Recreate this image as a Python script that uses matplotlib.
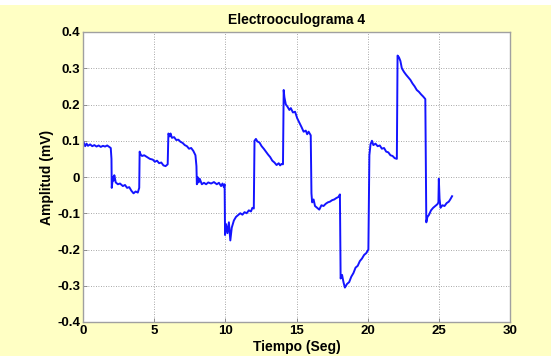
import matplotlib
matplotlib.use("Agg")
import matplotlib.pyplot as plt
from matplotlib.patches import Rectangle

title = "Electrooculograma 4"
xlabel = "Tiempo (Seg)"
ylabel = "Amplitud (mV)"
xticks = [0, 5, 10, 15, 20, 25, 30]
yticks = [-0.4, -0.3, -0.2, -0.1, 0, 0.1, 0.2, 0.3, 0.4]
ytick_labels = ["-0.4", "-0.3", "-0.2", "-0.1", "0", "0.1", "0.2", "0.3", "0.4"]

# signal breakpoints (time in s, amplitude in mV)
t = [0.0, 0.05, 0.15, 0.25, 0.35, 0.5, 0.65, 0.8, 0.95, 1.1, 1.25, 1.4, 1.55, 1.7, 1.85, 1.95, 2.0,
     2.02, 2.1, 2.15, 2.2, 2.3, 2.45, 2.6, 2.8, 2.95, 3.1, 3.25, 3.4, 3.55, 3.7, 3.85, 3.95,
     3.98, 4.05, 4.15, 4.3, 4.5, 4.7, 4.9, 5.05, 5.2, 5.35, 5.5, 5.65, 5.8, 5.95,
     6.0, 6.1, 6.15, 6.25, 6.4, 6.55, 6.7, 6.85, 7.0, 7.15, 7.3, 7.45, 7.6, 7.75, 7.9, 7.97,
     8.0, 8.05, 8.12, 8.2, 8.35, 8.5, 8.65, 8.8, 9.0, 9.2, 9.4, 9.55, 9.7, 9.8, 9.9, 9.95,
     9.98, 10.05, 10.15, 10.25, 10.35, 10.45, 10.6, 10.75, 10.9, 11.05, 11.2, 11.35, 11.5,
     11.65, 11.8, 11.9, 12.0,
     12.05, 12.15, 12.25, 12.4, 12.55, 12.7, 12.85, 13.0, 13.15, 13.3, 13.45, 13.6, 13.75,
     13.85, 13.95, 14.05,
     14.1, 14.15, 14.25, 14.35, 14.5, 14.6, 14.75, 14.9, 15.05, 15.2, 15.35, 15.5, 15.65,
     15.75, 15.85, 16.0,
     16.05, 16.1, 16.2, 16.3, 16.45, 16.6, 16.75, 16.9, 17.05, 17.2, 17.35, 17.5, 17.65,
     17.8, 17.95, 18.05,
     18.1, 18.2, 18.3, 18.4, 18.55, 18.7, 18.85, 19.0, 19.15, 19.3, 19.45, 19.6, 19.75,
     19.9, 20.05,
     20.12, 20.2, 20.3, 20.4, 20.55, 20.7, 20.85, 21.0, 21.15, 21.3, 21.45, 21.6, 21.75,
     21.9, 22.05,
     22.1, 22.2, 22.3, 22.4, 22.55, 22.7, 22.85, 23.0, 23.15, 23.3, 23.45, 23.6, 23.75,
     23.9, 24.05,
     24.12, 24.2, 24.3, 24.45, 24.6, 24.75, 24.9, 24.97, 25.0, 25.05, 25.12, 25.25, 25.4,
     25.55, 25.7, 25.8, 25.93]
v = [0.1, 0.095, 0.085, 0.092, 0.086, 0.09, 0.085, 0.088, 0.084, 0.087, 0.083, 0.086, 0.084,
     0.087, 0.083, 0.08, 0.05,
     -0.03, 0.0, -0.01, 0.005, -0.015, -0.02, -0.018, -0.025, -0.022, -0.03, -0.028, -0.038,
     -0.045, -0.04, -0.043, -0.03,
     0.07, 0.062, 0.058, 0.06, 0.055, 0.05, 0.048, 0.042, 0.045, 0.038, 0.04, 0.032, 0.03, 0.035,
     0.12, 0.112, 0.12, 0.108, 0.11, 0.102, 0.103, 0.097, 0.094, 0.088, 0.085, 0.078, 0.08,
     0.072, 0.06, 0.03,
     -0.02, 0.0, -0.015, -0.005, -0.02, -0.016, -0.02, -0.015, -0.018, -0.014, -0.02, -0.016,
     -0.025, -0.018, -0.028, -0.02,
     -0.16, -0.13, -0.155, -0.125, -0.175, -0.14, -0.12, -0.11, -0.105, -0.1, -0.104, -0.097,
     -0.1, -0.092, -0.095, -0.085, -0.087,
     0.1, 0.105, 0.098, 0.095, 0.085, 0.078, 0.07, 0.062, 0.055, 0.045, 0.04, 0.033, 0.038,
     0.032, 0.036, 0.035,
     0.24, 0.22, 0.2, 0.195, 0.185, 0.19, 0.178, 0.18, 0.162, 0.15, 0.138, 0.125, 0.128,
     0.118, 0.125, 0.115,
     -0.045, -0.07, -0.062, -0.08, -0.085, -0.09, -0.078, -0.08, -0.074, -0.07, -0.068,
     -0.064, -0.062, -0.058, -0.055, -0.048,
     -0.28, -0.27, -0.29, -0.305, -0.295, -0.29, -0.275, -0.265, -0.25, -0.245, -0.232,
     -0.225, -0.215, -0.21, -0.2,
     0.06, 0.09, 0.1, 0.088, 0.092, 0.085, 0.087, 0.078, 0.08, 0.07, 0.068, 0.06, 0.058,
     0.052, 0.05,
     0.335, 0.33, 0.32, 0.3, 0.29, 0.282, 0.275, 0.268, 0.258, 0.25, 0.24, 0.235, 0.228,
     0.222, 0.215,
     -0.125, -0.11, -0.105, -0.092, -0.085, -0.08, -0.075, -0.07, -0.005, -0.06, -0.085,
     -0.078, -0.08, -0.072, -0.068, -0.062, -0.053]

plt.rcParams['font.family'] = ['Liberation Sans', 'DejaVu Sans']

bg = '#ffffc4'
fig = plt.figure(figsize=(5.51, 3.56), dpi=100, facecolor=bg)
fig.patches.append(Rectangle((0, 1 - 5 / 356), 1, 5 / 356, transform=fig.transFigure,
                             facecolor='white', edgecolor='none', zorder=-1))
ax = fig.add_axes([83 / 551, 1 - 322 / 356, 427 / 551, 290 / 356])
ax.set_facecolor('white')
ax.plot(t, v, color='#1414ff', linewidth=1.4)
ax.set_xlim(0, 30)
ax.set_ylim(-0.4, 0.4)
ax.set_xticks(xticks)
ax.set_yticks(yticks)
ax.set_yticklabels(ytick_labels)
ax.grid(True, linestyle=(0, (1, 2)), color='#8a8a8a', linewidth=0.6)
ax.tick_params(direction='in', length=3, width=0.6, color='#808080', labelsize=9.5, pad=2)
for lab in ax.get_xticklabels() + ax.get_yticklabels():
    lab.set_fontweight('bold')
for s in ax.spines.values():
    s.set_color('#a0a0a0')
    s.set_linewidth(1.0)
ax.set_title(title, fontsize=10, fontweight='bold', pad=6)
ax.set_xlabel(xlabel, fontsize=10, fontweight='bold', labelpad=2)
ax.set_ylabel(ylabel, fontsize=10, fontweight='bold', labelpad=2)
fig.savefig('out.png', dpi=100, facecolor=bg)
